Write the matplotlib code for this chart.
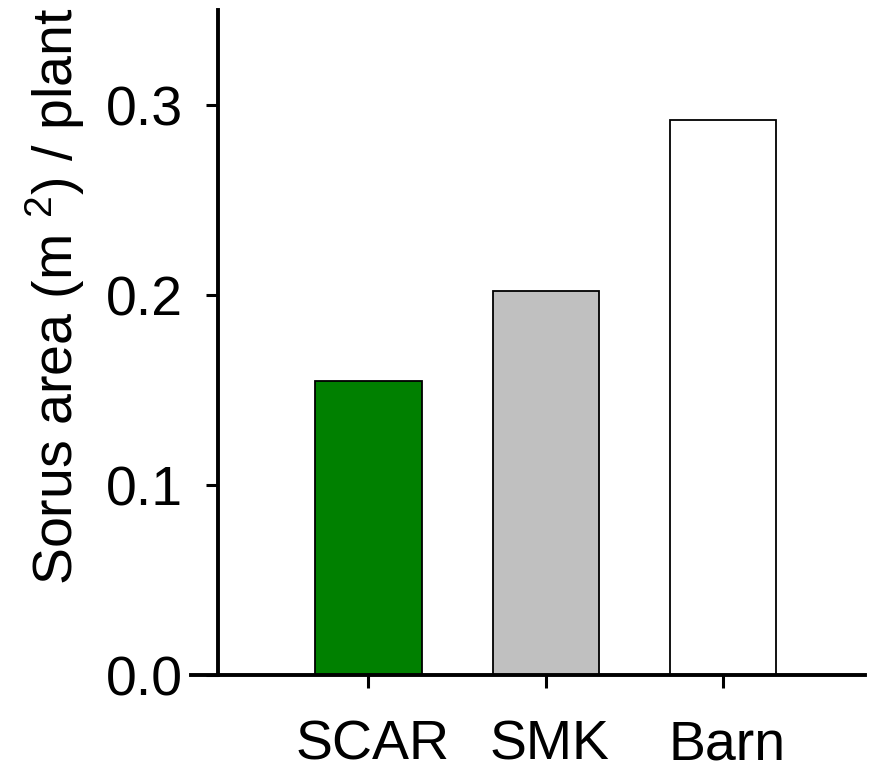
import matplotlib
matplotlib.use("Agg")
import matplotlib.pyplot as plt
from matplotlib.transforms import ScaledTranslation

plt.rcParams["font.family"] = ["Liberation Sans", "DejaVu Sans"]
plt.rcParams["mathtext.fontset"] = "custom"
plt.rcParams["mathtext.rm"] = "Liberation Sans"
plt.rcParams["mathtext.it"] = "Liberation Sans"

categories = ["SCAR", "SMK", "Barn"]
sorus_area = [0.155, 0.202, 0.292]
bar_colors = ["#008000", "#c0c0c0", "#ffffff"]
y_ticks = [0.0, 0.1, 0.2, 0.3]

fig = plt.figure(figsize=(8.95, 7.75), dpi=100)
ax = fig.add_axes([0.2134, 0.129, 0.7531, 0.858])

x = [1, 2, 3]
ax.bar(x, sorus_area, width=0.6, color=bar_colors, edgecolor="black", linewidth=1.3, zorder=2)

ax.set_xlim(0, 3.8)
ax.set_ylim(0, 0.35)
ax.spines["top"].set_visible(False)
ax.spines["right"].set_visible(False)
ax.spines["left"].set_position(("data", 0.15))
for s in ("left", "bottom"):
    ax.spines[s].set_linewidth(2.8)
    ax.spines[s].set_zorder(3)

ax.set_xticks(x)
ax.set_xticklabels(categories)
ax.set_yticks(y_ticks)
ax.set_yticklabels([f"{v:.1f}" for v in y_ticks])
ax.tick_params(axis="x", direction="out", length=9, width=2.2, labelsize=40, pad=23)
ax.tick_params(axis="y", direction="out", length=9, width=2.2, labelsize=40, pad=16)

# nudge category labels slightly right, as in the original
shift = ScaledTranslation(4 / 100, 0, fig.dpi_scale_trans)
for lbl in ax.get_xticklabels():
    lbl.set_transform(lbl.get_transform() + shift)

ax.set_ylabel(r"Sorus area (m $^2$) / plant", fontsize=40)
ax.yaxis.set_label_coords(-0.154, 0.569)

fig.savefig("out.png", dpi=100)
